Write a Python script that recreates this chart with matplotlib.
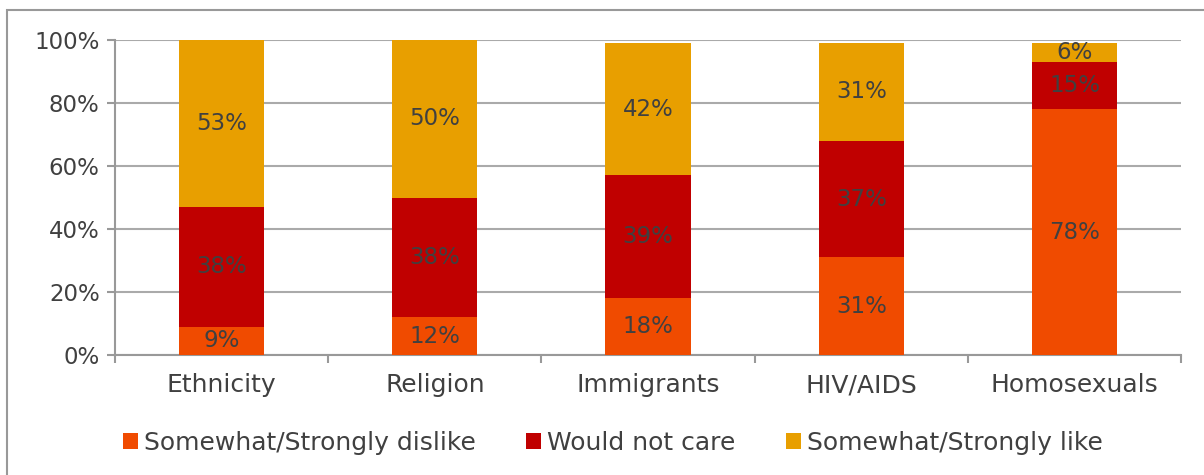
import matplotlib.pyplot as plt
from matplotlib.patches import Rectangle
from matplotlib.ticker import FixedLocator

categories = ["Ethnicity", "Religion", "Immigrants", "HIV/AIDS", "Homosexuals"]
dislike = [9, 12, 18, 31, 78]
not_care = [38, 38, 39, 37, 15]
like = [53, 50, 42, 31, 6]
series_names = ["Somewhat/Strongly dislike", "Would not care", "Somewhat/Strongly like"]
colors = ["#F04B00", "#C00000", "#E89F00"]

plt.rcParams['font.family'] = ['DejaVu Sans']
txt = '#404040'
fs_num = 16.5   # numbers (Century Gothic digits are narrow)
fs_txt = 18

fig = plt.figure(figsize=(12.04, 4.75), dpi=100)
ax = fig.add_axes([0.0955, 0.2526, 0.8855, 0.6632])

x = list(range(len(categories)))
bottom = [0] * len(categories)
for vals, name, col in zip([dislike, not_care, like], series_names, colors):
    ax.bar(x, vals, 0.4, bottom=bottom, color=col, label=name, zorder=3)
    for xi, b, v in zip(x, bottom, vals):
        ax.text(xi, b + v / 2, f"{v}%", ha='center', va='center', fontsize=fs_num, color=txt, zorder=4)
    bottom = [b + v for b, v in zip(bottom, vals)]

ax.set_xlim(-0.5, len(categories) - 0.5)
ax.set_ylim(0, 100)
ax.set_yticks(range(0, 101, 20))
ax.set_yticklabels([f"{t}%" for t in range(0, 101, 20)], fontsize=fs_num, color=txt)
ax.set_xticks(x)
ax.set_xticklabels(categories, fontsize=fs_txt, color=txt)
ax.xaxis.set_minor_locator(FixedLocator([i + 0.5 for i in range(-1, len(categories))]))
ax.tick_params(axis='x', which='major', length=0, pad=13)
ax.tick_params(axis='x', which='minor', length=6, color='#999999', width=1.5)
ax.tick_params(axis='y', length=6, color='#999999', width=1.5, pad=5)
ax.grid(axis='y', color='#aaaaaa', linewidth=1.5, zorder=0)
for s in ['top', 'right']:
    ax.spines[s].set_visible(False)
for s in ['left', 'bottom']:
    ax.spines[s].set_color('#999999')
    ax.spines[s].set_linewidth(1.5)

handles, labels = ax.get_legend_handles_labels()
fig.legend(handles, labels, loc='center', bbox_to_anchor=(0.509, 0.067), ncol=3, frameon=False,
           fontsize=fs_txt, handlelength=0.6, handleheight=0.6, handletextpad=0.25,
           columnspacing=2.0, labelcolor=txt)

fig.patches.append(Rectangle((7 / 1204, -0.1), 1.2, 1 - 10 / 475 + 0.1, transform=fig.transFigure,
                             fill=False, edgecolor='#999999', linewidth=1.5))

fig.savefig("out.png", dpi=100)
